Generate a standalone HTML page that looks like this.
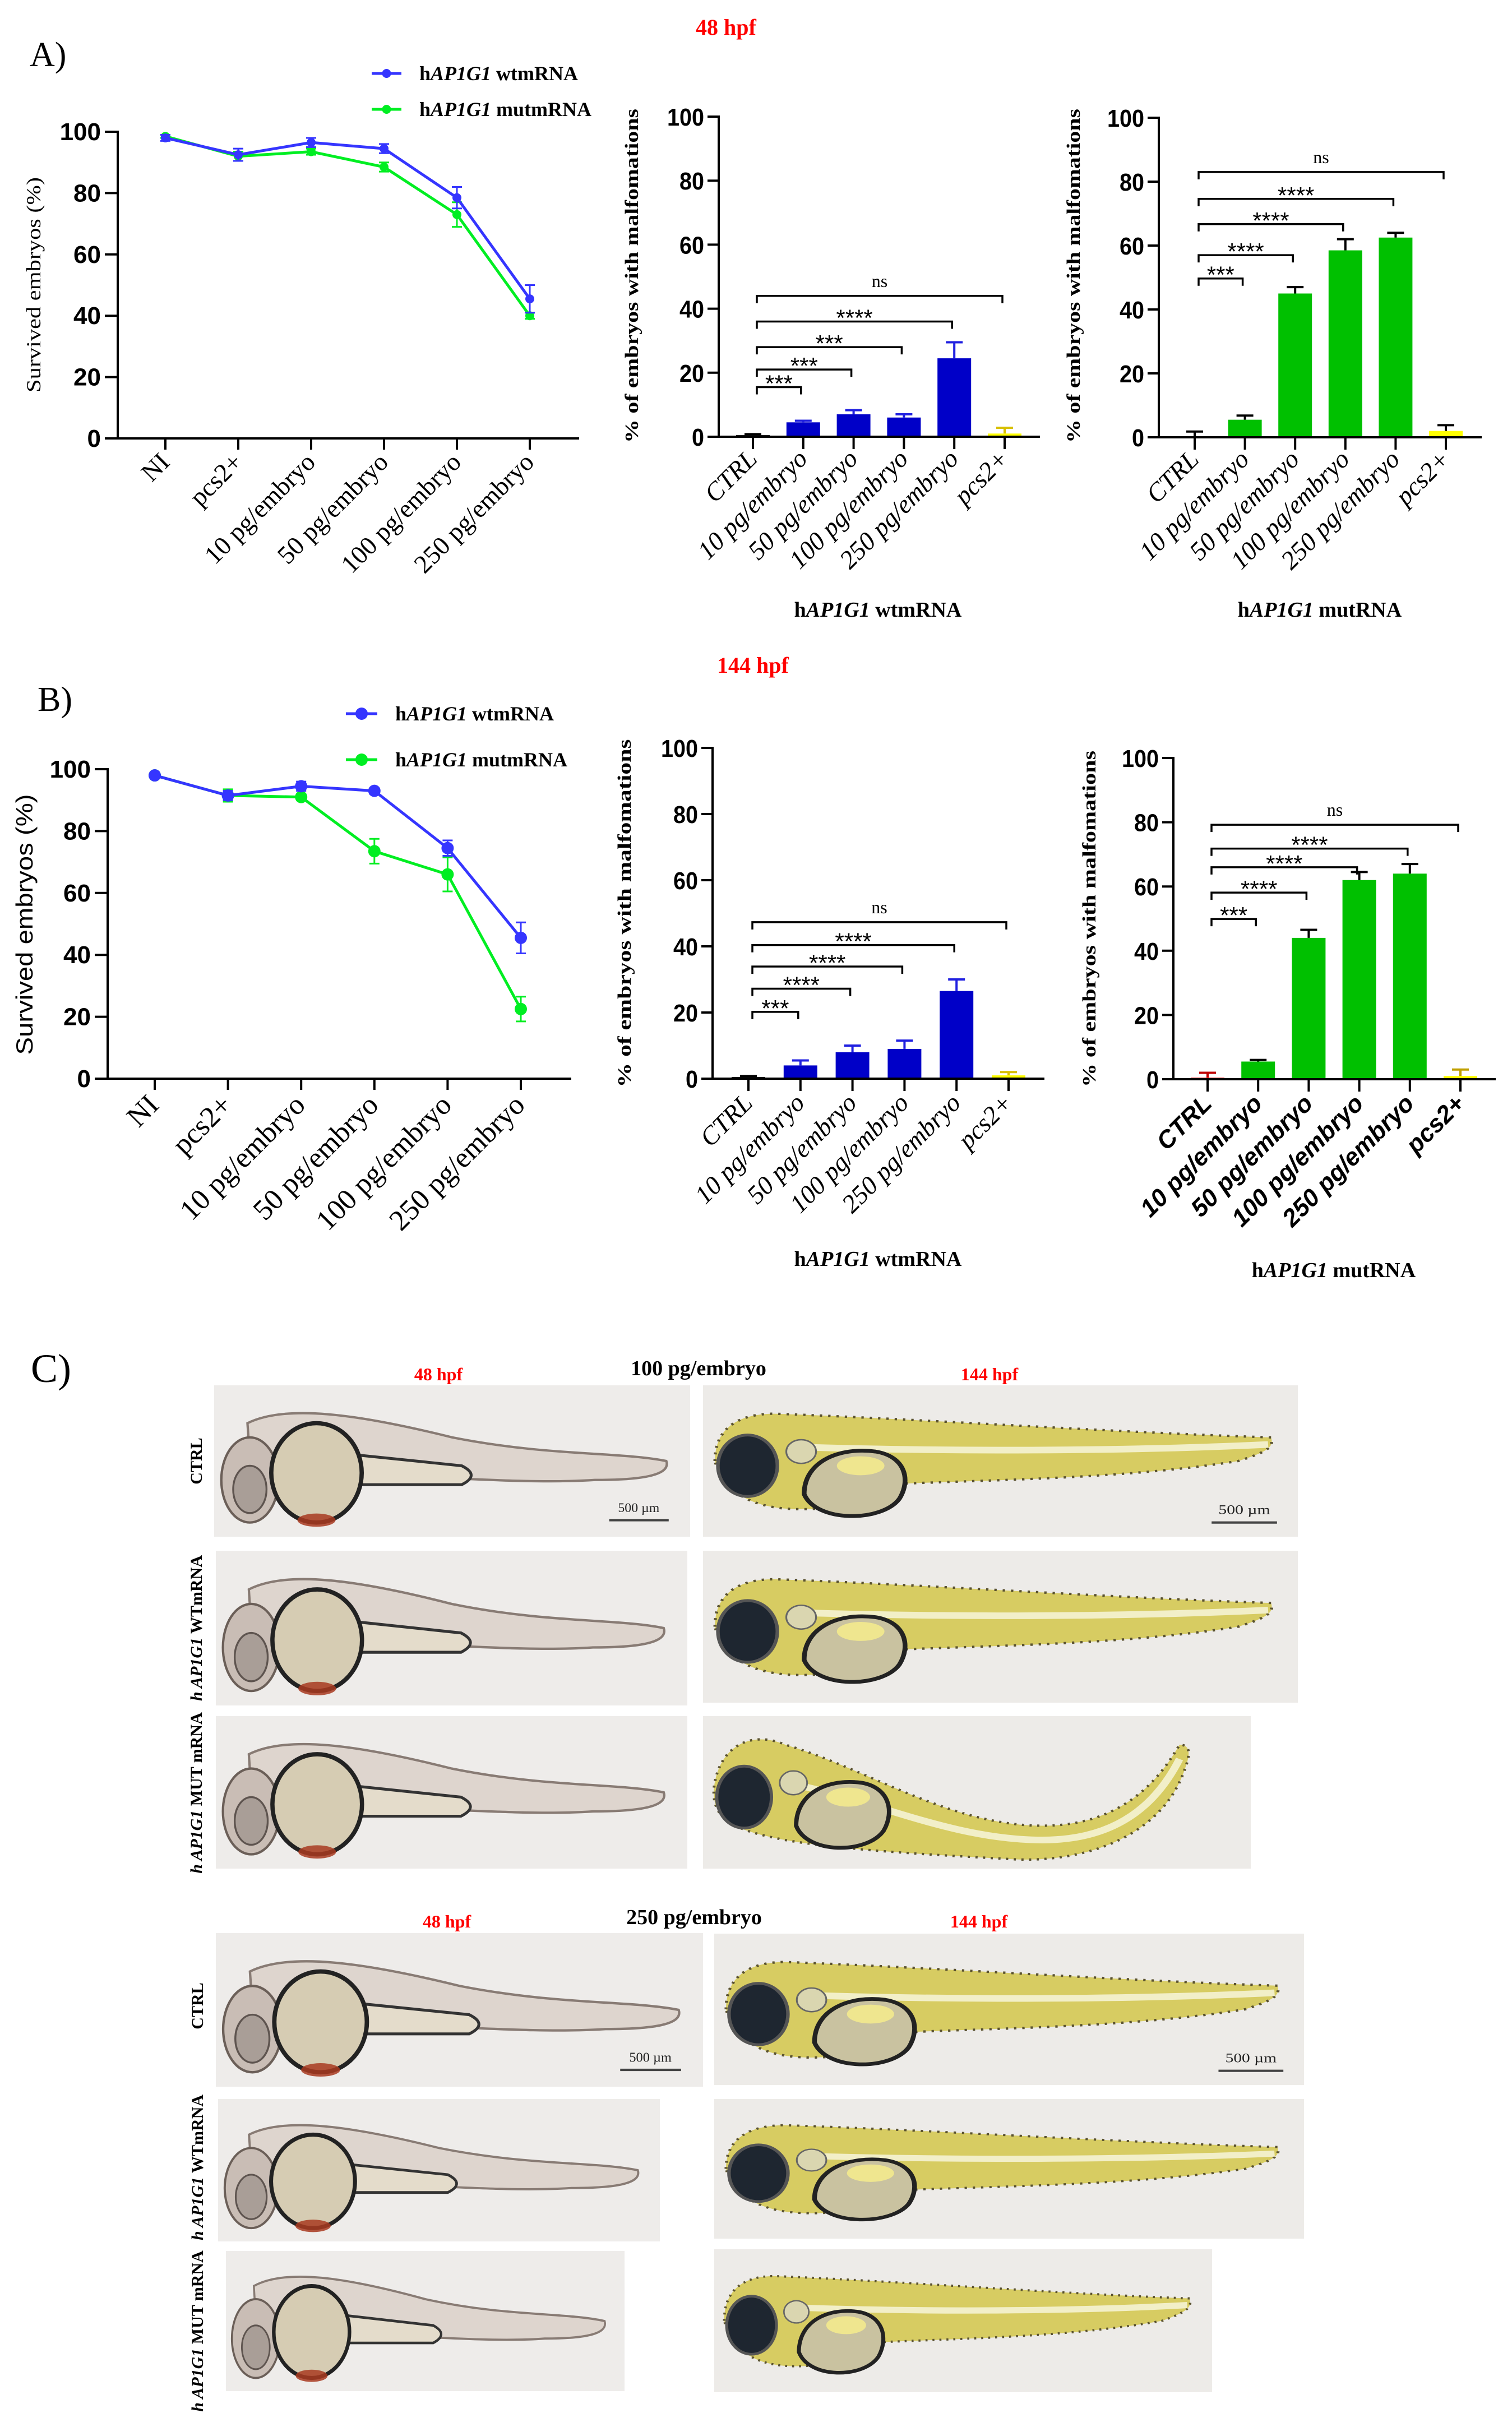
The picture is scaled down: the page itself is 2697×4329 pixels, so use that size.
<!DOCTYPE html>
<html><head><meta charset="utf-8"><style>
html,body{margin:0;padding:0;background:#fff;}
svg{display:block;}
.serif{font-family:"Liberation Serif",serif;}
.sans{font-family:"Liberation Sans",sans-serif;}
</style></head><body>
<svg id="fig" xmlns="http://www.w3.org/2000/svg" width="2697" height="4329" viewBox="0 0 2697 4329">
<rect x="0" y="0" width="2697" height="4329" fill="#fff"/>
<text class="serif" x="53" y="118" font-size="62">A)</text>
<text class="serif" x="67" y="1268" font-size="62">B)</text>
<text class="serif" x="55" y="2465" font-size="72">C)</text>
<text class="serif" x="1241" y="62" font-size="40" font-weight="bold" fill="#ff0000">48 hpf</text>
<text class="serif" x="1279" y="1200" font-size="40" font-weight="bold" fill="#ff0000">144 hpf</text>
<g id="charts"></g>
<g id="photos"></g>
</svg>
<script>
// ---------- DATA ----------
const lineCats = ['NI','pcs2+','10 pg/embryo','50 pg/embryo','100 pg/embryo','250 pg/embryo'];
const yTicks = [0,20,40,60,80,100];
const aWt = [98,92.5,96.5,94.5,78.5,45.5];
const aWtErr = [1,2,1.5,1.5,3.5,4.5];
const aMut = [98.5,92,93.5,88.5,73,40];
const aMutErr = [0.5,1.5,1,1.5,4,1];
const bWt = [98,91.5,94.5,93,74.5,45.5];
const bWtErr = [1,1.5,1.5,1,2.5,5];
const bMut = [98,91.5,91,73.5,66,22.5];
const bMutErr = [0.5,2,1,4,5.5,4];

const barCats = ['CTRL','10 pg/embryo','50 pg/embryo','100 pg/embryo','250 pg/embryo','pcs2+'];
const c1Vals = [0.5,4.5,7,6,24.5,1];
const c1Err = [0.3,0.5,1.3,1,5,1.8];
const c1Levels = [15.5,21,28,36,44];
const c1Labels = ['***','***','***','****','ns'];
const c2Vals = [0,5.5,45,58.5,62.5,2];
const c2Err = [1.8,1.3,2,3.5,1.5,1.8];
const c2Levels = [49.7,57,66.7,74.6,83];
const c2Labels = ['***','****','****','****','ns'];
const c3Vals = [0.5,4,8,9,26.5,1];
const c3Err = [0.3,1.5,2,2.5,3.5,1];
const c3Levels = [20.2,27.2,33.9,40.4,47.3];
const c3Labels = ['***','****','****','****','ns'];
const c4Vals = [0.5,5.5,44,62,64,1];
const c4Err = [1.5,0.5,2.5,2.5,3,2];
const c4Levels = [49.9,58.1,66,71.8,79.2];
const c4Labels = ['***','****','****','****','ns'];
const bracketTargets = [1,2,3,4,5];

// ---------- HELPERS ----------
const NS = 'http://www.w3.org/2000/svg';
const root = document.getElementById('charts');
function mk(tag, attrs, parent){
  const e = document.createElementNS(NS, tag);
  for (const k in attrs) e.setAttribute(k, attrs[k]);
  (parent||root).appendChild(e);
  return e;
}
function line(x1,y1,x2,y2,c,w,p){ return mk('line',{x1:x1,y1:y1,x2:x2,y2:y2,stroke:c,'stroke-width':w},p); }

// ---------- LINE CHART ----------
function lineChart(cfg){
  const g = mk('g',{});
  
  
  const ys = v => cfg.y0 - (cfg.y0 - cfg.y100) * v / 100;
  const xs = i => cfg.cx0 + cfg.dx * i;
  const ya = line(cfg.ax, ys(100)-2, cfg.ax, cfg.y0+2, '#000', 4, g);
  
  
  const xa = line(cfg.ax, cfg.y0, cfg.xR, cfg.y0, '#000', 4, g);
  
  
  yTicks.forEach(t => {
    const tk = line(cfg.xL, ys(t), cfg.ax, ys(t), '#000', 4, g);
    
    
    const tl = mk('text',{x:cfg.xL-7, y:ys(t)+15, 'text-anchor':'end', 'font-size':cfg.tickFs, 'font-weight':'bold', class:'sans'}, g);
    
    
    tl.textContent = t;
  });
  lineCats.forEach((c,i) => {
    const tk = line(xs(i), cfg.y0, xs(i), cfg.y0+20, '#000', 4, g);
    
    
    const x = xs(i)+10, y = cfg.y0 + cfg.lblDy;
    const tl = mk('text',{x:x, y:y, 'text-anchor':'end', 'font-size':cfg.lblFs, class:'serif', transform:`rotate(-45 ${x} ${y})`}, g);
    
    
    tl.textContent = c;
  });
  const yt = mk('text',{x:cfg.titleX, y:cfg.titleY, 'text-anchor':'middle', 'font-size':cfg.titleFs, class:cfg.titleClass, textLength:cfg.titleLen, lengthAdjust:'spacingAndGlyphs', transform:`rotate(-90 ${cfg.titleX} ${cfg.titleY})`}, g);
  
  
  yt.textContent = 'Survived embryos (%)';
  const series = [
    {vals:cfg.mut, err:cfg.mutErr, col:'#00ee22', nm:'series-mut'},
    {vals:cfg.wt, err:cfg.wtErr, col:'#3535ff', nm:'series-wt'}
  ];
  series.forEach(s => {
    const sg = mk('g',{}, g);
    
    
    const pts = s.vals.map((v,i) => xs(i)+','+ys(v)).join(' ');
    const pl = mk('polyline',{points:pts, fill:'none', stroke:s.col, 'stroke-width':5}, sg);
    
    
    s.vals.forEach((v,i) => {
      const e = s.err[i];
      const eb = mk('path',{d:`M${xs(i)-9},${ys(v+e)}h18M${xs(i)},${ys(v+e)}V${ys(v-e)}M${xs(i)-9},${ys(v-e)}h18`, stroke:s.col, 'stroke-width':3, fill:'none'}, sg);
      
      
      const pt = mk('circle',{cx:xs(i), cy:ys(v), r:cfg.r, fill:s.col}, sg);
      
      
    });
  });
  const legItems = [{y:cfg.legY1, col:'#3535ff', t:'wtmRNA', nm:'legend-entry-wt'},{y:cfg.legY2, col:'#00ee22', t:'mutmRNA', nm:'legend-entry-mut'}];
  legItems.forEach(L => {
    const lg = mk('g',{}, g);
    
    
    line(cfg.legX1, L.y, cfg.legX2, L.y, L.col, 5, lg);
    mk('circle',{cx:(cfg.legX1+cfg.legX2)/2, cy:L.y, r:cfg.r, fill:L.col}, lg);
    const t = mk('text',{x:cfg.legTx, y:L.y+12, 'font-size':36, 'font-weight':'bold', class:'serif'}, lg);
    t.innerHTML = 'h<tspan font-style="italic">AP1G1</tspan> ' + L.t;
  });
}

lineChart({name:'line-chart-48hpf', ax:210, y0:782, y100:235, xL:187, xR:1033, cx0:295, dx:130, r:8,
  tickFs:44, lblFs:46, lblDy:45, titleX:72, titleY:508, titleFs:36, titleLen:384, titleClass:'serif',
  wt:aWt, wtErr:aWtErr, mut:aMut, mutErr:aMutErr, legX1:663, legX2:716, legY1:131, legY2:195, legTx:748});
lineChart({name:'line-chart-144hpf', ax:192, y0:1924, y100:1372, xL:169, xR:1019, cx0:276, dx:130.6, r:11,
  tickFs:44, lblFs:52, lblDy:50, titleX:58, titleY:1649, titleFs:42, titleLen:465, titleClass:'sans',
  wt:bWt, wtErr:bWtErr, mut:bMut, mutErr:bMutErr, legX1:617, legX2:673, legY1:1273, legY2:1355, legTx:705});

// ---------- BAR CHART ----------
function barChart(cfg){
  const g = mk('g',{});
  
  
  const ys = v => cfg.y0 - (cfg.y0 - cfg.y100) * v / 100;
  const xs = i => cfg.cx0 + cfg.dx * i;
  const ya = line(cfg.ax, ys(100)-2, cfg.ax, cfg.y0+2, '#000', 4, g);
  
  
  yTicks.forEach(t => {
    const tk = line(cfg.ax-20, ys(t), cfg.ax, ys(t), '#000', 4, g);
    
    
    const tl = mk('text',{x:cfg.ax-26, y:ys(t)+16, 'text-anchor':'end', 'font-size':44, 'font-weight':'bold', class:'sans', textLength: String(t).length*22, lengthAdjust:'spacingAndGlyphs'}, g);
    
    
    tl.textContent = t;
  });
  const yt = mk('text',{x:cfg.titleX, y:cfg.titleY, 'text-anchor':'middle', 'font-size':34, 'font-weight':'bold', class:'serif', textLength:cfg.titleLen, lengthAdjust:'spacingAndGlyphs', transform:`rotate(-90 ${cfg.titleX} ${cfg.titleY})`}, g);
  
  
  yt.textContent = '% of embryos with malfomations';
  const bw = 60;
  cfg.vals.forEach((v,i) => {
    const col = cfg.colors[i];
    const ecol = cfg.ecolors[i];
    const e = cfg.err[i];
    if (v > 0) {
      const b = mk('rect',{x:xs(i)-bw/2, y:ys(v), width:bw, height:Math.max(cfg.y0-ys(v),2), fill:col}, g);
      
      
    }
    const eb = mk('path',{d:`M${xs(i)-15},${ys(v+e)}h30M${xs(i)},${ys(v+e)}V${ys(v)}`, stroke:ecol, 'stroke-width':4, fill:'none'}, g);
    
    
  });
  const xa = line(cfg.ax, cfg.y0, cfg.xR, cfg.y0, '#000', 4, g);
  
  
  barCats.forEach((c,i) => {
    const tk = line(xs(i), cfg.y0, xs(i), cfg.y0+22, '#000', 4, g);
    
    
    const x = xs(i)+10, y = cfg.y0 + cfg.lblDy;
    const tl = mk('text',{x:x, y:y, 'text-anchor':'end', 'font-size':cfg.lblFs, 'font-style':'italic', 'font-weight':cfg.lblW, class:cfg.lblClass, transform:`rotate(-45 ${x} ${y})`}, g);
    
    
    tl.textContent = c;
  });
  cfg.levels.forEach((lv,k) => {
    const xl = xs(0)+7, xr = xs(bracketTargets[k]) - 4, yy = ys(lv);
    const br = mk('path',{d:`M${xl},${yy+13}V${yy}H${xr}V${yy+13}`, stroke:'#000', 'stroke-width':3.5, fill:'none'}, g);
    
    
    const lab = cfg.labels[k];
    const isNs = lab === 'ns';
    const t = mk('text',{x:(xl+xr)/2, y: isNs ? yy-16 : yy+8, 'text-anchor':'middle', 'font-size': isNs ? 32 : 42, class: isNs ? 'serif' : 'sans'}, g);
    
    
    t.textContent = lab;
  });
  const st = mk('text',{x:cfg.subX, y:cfg.subY, 'text-anchor':'middle', 'font-size':38, 'font-weight':'bold', class:'serif'}, g);
  
  
  st.innerHTML = 'h<tspan font-style="italic">AP1G1</tspan> ' + cfg.sub;
}
const blueCols = ['#000','#0000c8','#0000c8','#0000c8','#0000c8','#ffff00'];
const blueE = ['#000','#2020e0','#2020e0','#2020e0','#2020e0','#d8c000'];
barChart({name:'bar-chart-48hpf-wt', ax:1282, y0:779, y100:208, xR:1855, cx0:1343, dx:89.8, vals:c1Vals, err:c1Err, levels:c1Levels, labels:c1Labels,
  colors:blueCols, ecolors:blueE, titleX:1138, titleY:492, titleLen:596, lblFs:46, lblW:'normal', lblClass:'serif', lblDy:42, subX:1566, subY:1100, sub:'wtmRNA'});
barChart({name:'bar-chart-48hpf-mut', ax:2067, y0:780, y100:210, xR:2643, cx0:2131, dx:89.6, vals:c2Vals, err:c2Err, levels:c2Levels, labels:c2Labels,
  colors:['#000','#00c000','#00c000','#00c000','#00c000','#ffff00'], ecolors:['#000','#000','#000','#000','#000','#000'], titleX:1926, titleY:492, titleLen:596, lblFs:46, lblW:'normal', lblClass:'serif', lblDy:42, subX:2354, subY:1100, sub:'mutRNA'});
barChart({name:'bar-chart-144hpf-wt', ax:1271, y0:1924, y100:1334, xR:1863, cx0:1335, dx:92.8, vals:c3Vals, err:c3Err, levels:c3Levels, labels:c3Labels,
  colors:blueCols, ecolors:blueE, titleX:1125, titleY:1629, titleLen:621, lblFs:46, lblW:'normal', lblClass:'serif', lblDy:46, subX:1566, subY:2258, sub:'wtmRNA'});
barChart({name:'bar-chart-144hpf-mut', ax:2093, y0:1925, y100:1352, xR:2668, cx0:2154, dx:90.2, vals:c4Vals, err:c4Err, levels:c4Levels, labels:c4Labels,
  colors:['#ff2020','#00c000','#00c000','#00c000','#00c000','#ffff00'], ecolors:['#c00000','#000','#000','#000','#000','#c0a000'], titleX:1954, titleY:1639, titleLen:600, lblFs:44, lblW:'bold', lblClass:'sans', lblDy:46, subX:2379, subY:2278, sub:'mutRNA'});

// ---------- PANEL C (photos, drawn schematically) ----------
const P = document.getElementById('photos');
function txt(x,y,s,fs,fill,anchor,extra,parent){
  const t = mk('text', Object.assign({x:x,y:y,'font-size':fs,fill:fill,'text-anchor':anchor||'middle',class:'serif'}, extra||{}), parent||P);
  t.textContent = s;
  return t;
}
function fish48(x,y,w,h,nm,scale){
  const s = mk('svg',{x:x,y:y,width:w,height:h,viewBox:'0 0 1000 320',preserveAspectRatio:'none'},P);
  
  
  mk('rect',{x:0,y:0,width:1000,height:320,fill:'#eeecea'},s);
  mk('path',{d:'M70,80 C150,40 300,60 500,110 C700,150 850,140 950,160 C960,190 900,200 800,200 C650,210 450,190 300,190 L200,250 L80,230 Z',fill:'#ddd3cc',stroke:'#7d6f68','stroke-width':5,opacity:0.9},s);
  mk('path',{d:'M230,140 L520,170 Q560,190 520,210 L230,210 Z',fill:'#e4dccb',stroke:'#333','stroke-width':6},s);
  mk('ellipse',{cx:75,cy:200,rx:60,ry:90,fill:'#c9bdb5',stroke:'#6b5f58','stroke-width':5},s);
  mk('ellipse',{cx:75,cy:220,rx:35,ry:50,fill:'#a99e97',stroke:'#5e544f','stroke-width':4},s);
  mk('ellipse',{cx:215,cy:185,rx:95,ry:105,fill:'#d6ccb3',stroke:'#222','stroke-width':9},s);
  mk('ellipse',{cx:215,cy:285,rx:40,ry:14,fill:'#a83a20',opacity:0.85},s);
  if (scale) {
    mk('line',{x1:830,y1:285,x2:955,y2:285,stroke:'#444','stroke-width':5},s);
    const t = mk('text',{x:892,y:268,'text-anchor':'middle','font-size':28,class:'serif',fill:'#222'},s);
    t.textContent = '500 µm';
  }
}
function fish144(x,y,w,h,nm,scale,curved){
  const s = mk('svg',{x:x,y:y,width:w,height:h,viewBox:'0 0 1000 320',preserveAspectRatio:'none'},P);
  
  
  mk('rect',{x:0,y:0,width:1000,height:320,fill:'#edebe8'},s);
  const body = curved
    ? 'M20,150 C30,60 90,30 150,60 C300,110 450,230 620,230 C760,230 830,140 870,60 C890,60 890,80 880,110 C840,250 700,310 560,300 C400,290 250,280 150,260 C60,240 15,220 20,150 Z'
    : 'M20,160 C20,90 60,60 120,60 C350,70 700,100 955,110 C960,130 950,140 900,160 C700,200 450,200 300,210 L200,260 C100,270 40,240 20,160 Z';
  mk('path',{d:body,fill:'#d7cc62',stroke:'#5a5230','stroke-width':5,'stroke-dasharray':'4 10'},s);
  mk('path',{d:curved?'M150,140 C300,170 450,260 620,260 C760,260 830,180 870,90':'M150,130 C400,140 700,140 950,125',fill:'none',stroke:'#f2efc8','stroke-width':14},s);
  mk('ellipse',{cx:75,cy:170,rx:50,ry:65,fill:'#1e2630',stroke:'#555','stroke-width':6},s);
  mk('circle',{cx:165,cy:140,r:25,fill:'#dad6b0',stroke:'#666','stroke-width':3},s);
  mk('path',{d:'M170,230 C170,160 230,130 290,140 C340,150 350,200 330,240 C300,290 190,290 170,230 Z',fill:'#c9c2a0',stroke:'#222','stroke-width':8},s);
  mk('ellipse',{cx:265,cy:170,rx:40,ry:20,fill:'#efe68f'},s);
  if (scale) {
    mk('line',{x1:855,y1:290,x2:965,y2:290,stroke:'#444','stroke-width':5},s);
    const t = mk('text',{x:910,y:272,'text-anchor':'middle','font-size':28,class:'serif',fill:'#222'},s);
    t.textContent = '500 µm';
  }
}
function rowLabel(x,y,html,nm){
  const t = mk('text',{x:x,y:y,'text-anchor':'middle','font-size':30,'font-weight':'bold',class:'serif',transform:`rotate(-90 ${x} ${y})`},P);
  
  
  t.innerHTML = html;
}
let t1 = txt(782,2462,'48 hpf',32,'#ff0000','middle',{'font-weight':'bold'});


let t2 = txt(1246,2453,'100 pg/embryo',38,'#000','middle',{'font-weight':'bold'});


let t3 = txt(1765,2462,'144 hpf',32,'#ff0000','middle',{'font-weight':'bold'});


fish48(382,2471,849,270,'photo-100-ctrl-48hpf',true);
fish144(1254,2471,1061,270,'photo-100-ctrl-144hpf',true,false);
fish48(385,2766,841,276,'photo-100-wt-48hpf',false);
fish144(1254,2766,1061,271,'photo-100-wt-144hpf',false,false);
fish48(385,3061,841,272,'photo-100-mut-48hpf',false);
fish144(1254,3061,977,272,'photo-100-mut-144hpf',false,true);
rowLabel(360,2606,'CTRL','c1-row-ctrl');
rowLabel(360,2904,'<tspan font-style="italic">h AP1G1</tspan> WTmRNA','c1-row-wt');
rowLabel(360,3198,'<tspan font-style="italic">h AP1G1</tspan> MUT mRNA','c1-row-mut');
let t4 = txt(797,3438,'48 hpf',32,'#ff0000','middle',{'font-weight':'bold'});


let t5 = txt(1238,3432,'250 pg/embryo',38,'#000','middle',{'font-weight':'bold'});


let t6 = txt(1746,3438,'144 hpf',32,'#ff0000','middle',{'font-weight':'bold'});


fish48(385,3448,869,274,'photo-250-ctrl-48hpf',true);
fish144(1274,3449,1052,270,'photo-250-ctrl-144hpf',true,false);
fish48(389,3744,788,254,'photo-250-wt-48hpf',false);
fish144(1274,3744,1052,249,'photo-250-wt-144hpf',false,false);
fish48(403,4015,711,250,'photo-250-mut-48hpf',false);
fish144(1274,4012,888,255,'photo-250-mut-144hpf',false,false);
rowLabel(362,3578,'CTRL','c2-row-ctrl');
rowLabel(362,3866,'<tspan font-style="italic">h AP1G1</tspan> WTmRNA','c2-row-wt');
rowLabel(362,4158,'<tspan font-style="italic">h AP1G1</tspan> MUT mRNA','c2-row-mut');
</script>
</body></html>
